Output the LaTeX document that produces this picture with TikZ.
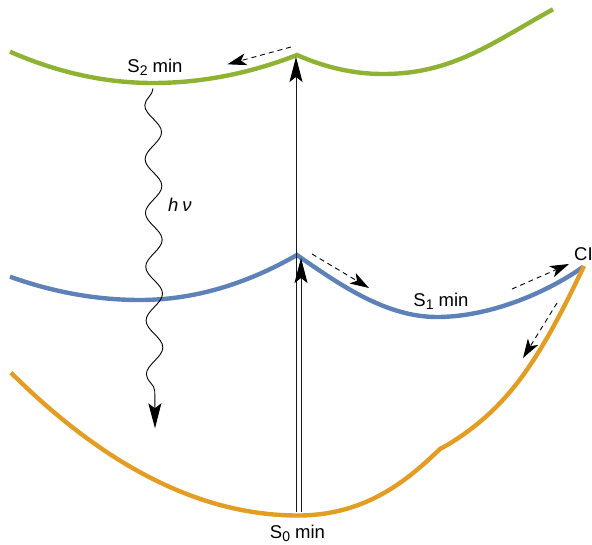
\documentclass[tikz,border=0pt]{standalone}
\usepackage{fontspec}
\setmainfont{Liberation Sans}
\usetikzlibrary{arrows.meta, decorations.pathmorphing, positioning}
\definecolor{StateGreen}{RGB}{143,178,52}
\definecolor{StateBlue}{RGB}{94,129,183}
\definecolor{StateOrange}{RGB}{226,157,36}
\newcommand{\sublabel}[1]{\raisebox{-3pt}{\fontsize{14}{14}\selectfont #1}}

\begin{document}
\begin{tikzpicture}[x=1pt, y=-1pt,
    surface/.style={line width=4.4pt},
    vert/.style={line width=0.9pt, black!90,
      -{Stealth[length=25pt,width=13pt,inset=5pt,black]}},
    relax/.style={line width=0.9pt, dash pattern=on 5pt off 4pt,
      -{Stealth[length=19pt,width=12pt,inset=5pt]}},
    lbl/.style={font=\fontsize{18.5}{22}\selectfont, inner sep=0pt}]
  \useasboundingbox (0,0) rectangle (592,544);

  % potential energy curves
  \draw[surface,StateGreen] (10,51.7)
    .. controls (57.7,72.6) and (105.3,83) .. (153,83)
    .. controls (201,83) and (249,73.7) .. (297,55)
    .. controls (325.7,67.7) and (354.3,74) .. (383,74)
    .. controls (453,74) and (493,42.3) .. (553,9.3);
  \draw[surface,StateBlue] (10,276.7)
    .. controls (53.3,292.2) and (96.7,300) .. (140,300)
    .. controls (192.3,300) and (244.7,285) .. (297,255)
    .. controls (342,286.5) and (387,317) .. (437,317)
    .. controls (487,317) and (543,295) .. (583,267);
  \draw[surface,StateOrange] (11,372.7)
    .. controls (106.7,467.9) and (202.3,515.5) .. (298,515.5)
    .. controls (368,515.5) and (410,477.6) .. (440,449)
    -- (449,444)
    .. controls (509,406.8) and (539,360.5) .. (584,266);

  % labels
  \node[lbl, anchor=base] (s2min) at (155,72.7) {S\sublabel{2} min};
  \node[lbl, anchor=base] (s1min) at (441,306) {S\sublabel{1} min};
  \node[lbl, anchor=base] (s0min) at (297.5,538.5) {S\sublabel{0} min};
  \node[lbl, anchor=base west] (ci) at (574,260.7) {CI};
  \node[lbl, anchor=base west] (hnu) at (168,211.7) {\itshape h\hspace{4pt}ν};

  % excitation
  \coordinate (s0a) at (296,512);
  \coordinate (s0b) at (301,512);
  \coordinate (s2cusp) at (296,57);
  \coordinate (s1cusp) at (301,258);
  \draw[vert] (s0a) -- (s2cusp);
  \draw[vert] (s0b) -- (s1cusp);

  % emission
  \coordinate (emit) at (153,88.5);
  \coordinate (land) at (155,428.3);
  \draw[line width=0.9pt, -{Stealth[length=25pt,width=13pt,inset=5pt]},
    decorate, decoration={snake, amplitude=8.3pt, segment length=53.8pt,
      post length=24pt, mirror}] (emit) -- (land);

  % relaxation paths
  \coordinate (r1a) at (291,47);
  \coordinate (r1b) at (227.5,64.3);
  \coordinate (r2a) at (312,254);
  \coordinate (r2b) at (369,288);
  \coordinate (r3a) at (512,289);
  \coordinate (r3b) at (569,264);
  \coordinate (r4a) at (557,303);
  \coordinate (r4b) at (523,358);
  \draw[relax] (r1a) -- (r1b);
  \draw[relax] (r2a) -- (r2b);
  \draw[relax] (r3a) -- (r3b);
  \draw[relax] (r4a) -- (r4b);
\end{tikzpicture}
\end{document}
